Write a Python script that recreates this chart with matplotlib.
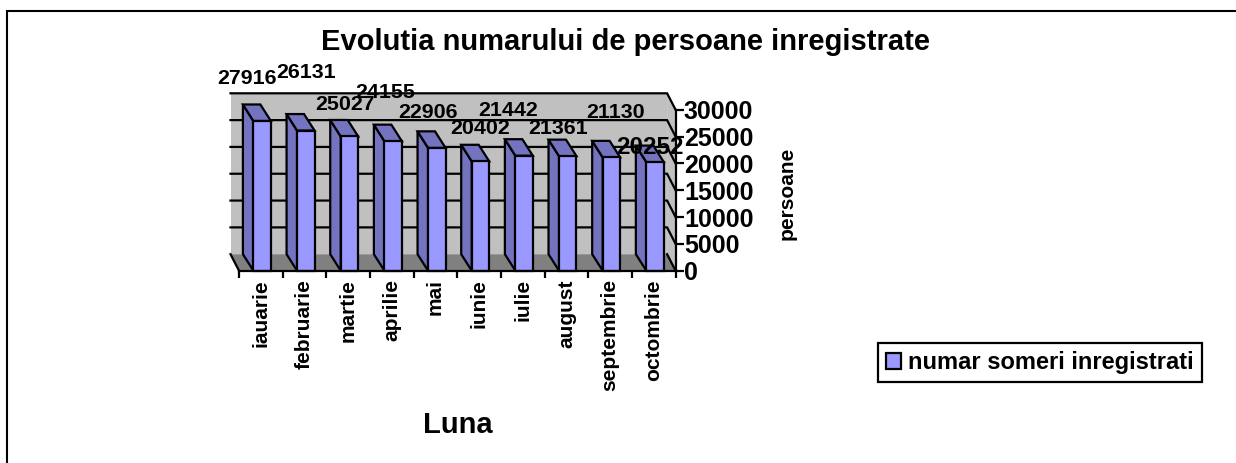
import matplotlib
matplotlib.use("Agg")
import matplotlib.pyplot as plt
from matplotlib.patches import Polygon, Patch
from matplotlib.lines import Line2D

months = ["iauarie", "februarie", "martie", "aprilie", "mai", "iunie", "iulie",
          "august", "septembrie", "octombrie"]
values = [27916, 26131, 25027, 24155, 22906, 20402, 21442, 21361, 21130, 20252]
y_ticks = [0, 5000, 10000, 15000, 20000, 25000, 30000]

# label centres in pixels, as placed in the reference
label_px = [(247, 78), (306, 72), (345, 104), (385, 92), (428, 112),
            (480, 128), (508, 110), (558, 128), (616, 113), (650, 148)]
label_size = [15.4] * 9 + [17.5]

W, H = 1236, 463
FONT = "Liberation Sans"
plt.rcParams["font.family"] = FONT
plt.rcParams["font.weight"] = "bold"

fig = plt.figure(figsize=(W / 100, H / 100), dpi=100)
L, R, B, T = 239, 675.6, 270.7, 109.8
ax = fig.add_axes([L / W, 1 - B / H, (R - L) / W, (B - T) / H])
ax.set_xlim(0, 10)
ax.set_ylim(0, 30000)
ax.patch.set_visible(False)

px_x = 10 / (R - L)
px_y = 30000 / (B - T)
wall_dx, wall_dy = -8.5 * px_x, 16.5 * px_y
bar_dx, bar_dy = -10.5 * px_x, 16.5 * px_y
WALL, FLOOR, FRONT, SIDE = "#C0C0C0", "#808080", "#9999FF", "#7373BF"
LW = 1.6


def poly(pts, fc, ec="none", z=1, lw=LW):
    ax.add_patch(Polygon(pts, closed=True, fc=fc, ec=ec, lw=lw, zorder=z,
                         clip_on=False, joinstyle="miter"))


top = 30000
# back wall, right wall, floor
poly([(wall_dx, wall_dy), (10 + wall_dx, wall_dy), (10 + wall_dx, top + wall_dy),
      (wall_dx, top + wall_dy)], WALL)
poly([(10 + wall_dx, wall_dy), (10, 0), (10, top), (10 + wall_dx, top + wall_dy)], WALL)
poly([(0, 0), (10, 0), (10 + wall_dx, wall_dy), (wall_dx, wall_dy)], FLOOR)

# gridlines on back and right walls
for v in y_ticks[1:]:
    ax.plot([wall_dx, 10 + wall_dx, 10], [v + wall_dy, v + wall_dy, v], color="black",
            lw=LW, zorder=2, clip_on=False, solid_joinstyle="miter")
ax.plot([10 + wall_dx, 10], [wall_dy, 0], color="black", lw=LW, zorder=2, clip_on=False)
ax.plot([wall_dx, 0], [wall_dy, 0], color="black", lw=LW, zorder=2, clip_on=False)

# bars with depth
width = 0.4
for i, v in enumerate(values):
    x0 = i + 0.5 - width / 2 + 0.03
    x1 = x0 + width
    poly([(x0, 0), (x0 + bar_dx, bar_dy), (x0 + bar_dx, v + bar_dy), (x0, v)], SIDE, "black", 3)
    poly([(x0, v), (x0 + bar_dx, v + bar_dy), (x1 + bar_dx, v + bar_dy), (x1, v)], SIDE, "black", 3)
    ax.bar(x0, v, width=width, align="edge", color=FRONT, edgecolor="black", lw=LW, zorder=4,
           clip_on=False)

# axes
for s in ("top", "left"):
    ax.spines[s].set_visible(False)
for s in ("bottom", "right"):
    ax.spines[s].set_linewidth(LW)
    ax.spines[s].set_zorder(6)
ax.yaxis.tick_right()
ax.set_yticks(y_ticks)
ax.set_yticklabels([str(v) for v in y_ticks], fontsize=18, fontweight="bold")
ax.tick_params(axis="y", length=6, width=LW, pad=0)
ax.set_xticks(range(11))
ax.set_xticklabels([])
ax.tick_params(axis="x", which="major", length=5, width=LW)
ax.set_xticks([i + 0.5 for i in range(10)], minor=True)
ax.set_xticklabels(months, minor=True, rotation=90, fontsize=15, fontweight="bold",
                   va="top", ha="center")
ax.tick_params(axis="x", which="minor", length=0, pad=6)

# value labels
for v, (x, y), s in zip(values, label_px, label_size):
    fig.text(x / W, 1 - y / H, str(v), fontsize=s, fontweight="bold", ha="center",
             va="center", zorder=8)

# titles
fig.text(625.5 / W, 1 - 41.5 / H, "Evolutia numarului de persoane inregistrate",
         fontsize=21, fontweight="bold", ha="center", va="center")
fig.text(458 / W, 1 - 425 / H, "Luna", fontsize=21, fontweight="bold", ha="center", va="center")
fig.text(787 / W, 1 - 193 / H, "persoane", fontsize=15, fontweight="bold", rotation=90,
         ha="center", va="center")

# legend
handle = Patch(fc=FRONT, ec="black", lw=LW)
leg = ax.legend([handle], ["numar someri inregistrati"], loc="lower left",
                bbox_to_anchor=(878 / W, 1 - 381.7 / H, 324 / W, 37 / H),
                bbox_transform=fig.transFigure, mode="expand",
                borderaxespad=0, fancybox=False, framealpha=1, edgecolor="black",
                prop={"family": FONT, "weight": "bold", "size": 17},
                handlelength=0.66, handleheight=0.66, handletextpad=0.3,
                borderpad=0.33)
leg.get_frame().set_linewidth(LW)

# outer frame: only left and top edges fall inside the picture
fig.add_artist(Line2D([7 / W, 7 / W, 1], [0, 1 - 11 / H, 1 - 11 / H], color="black", lw=1.5,
                      transform=fig.transFigure, solid_joinstyle="miter"))

fig.savefig("out.png", dpi=100)
